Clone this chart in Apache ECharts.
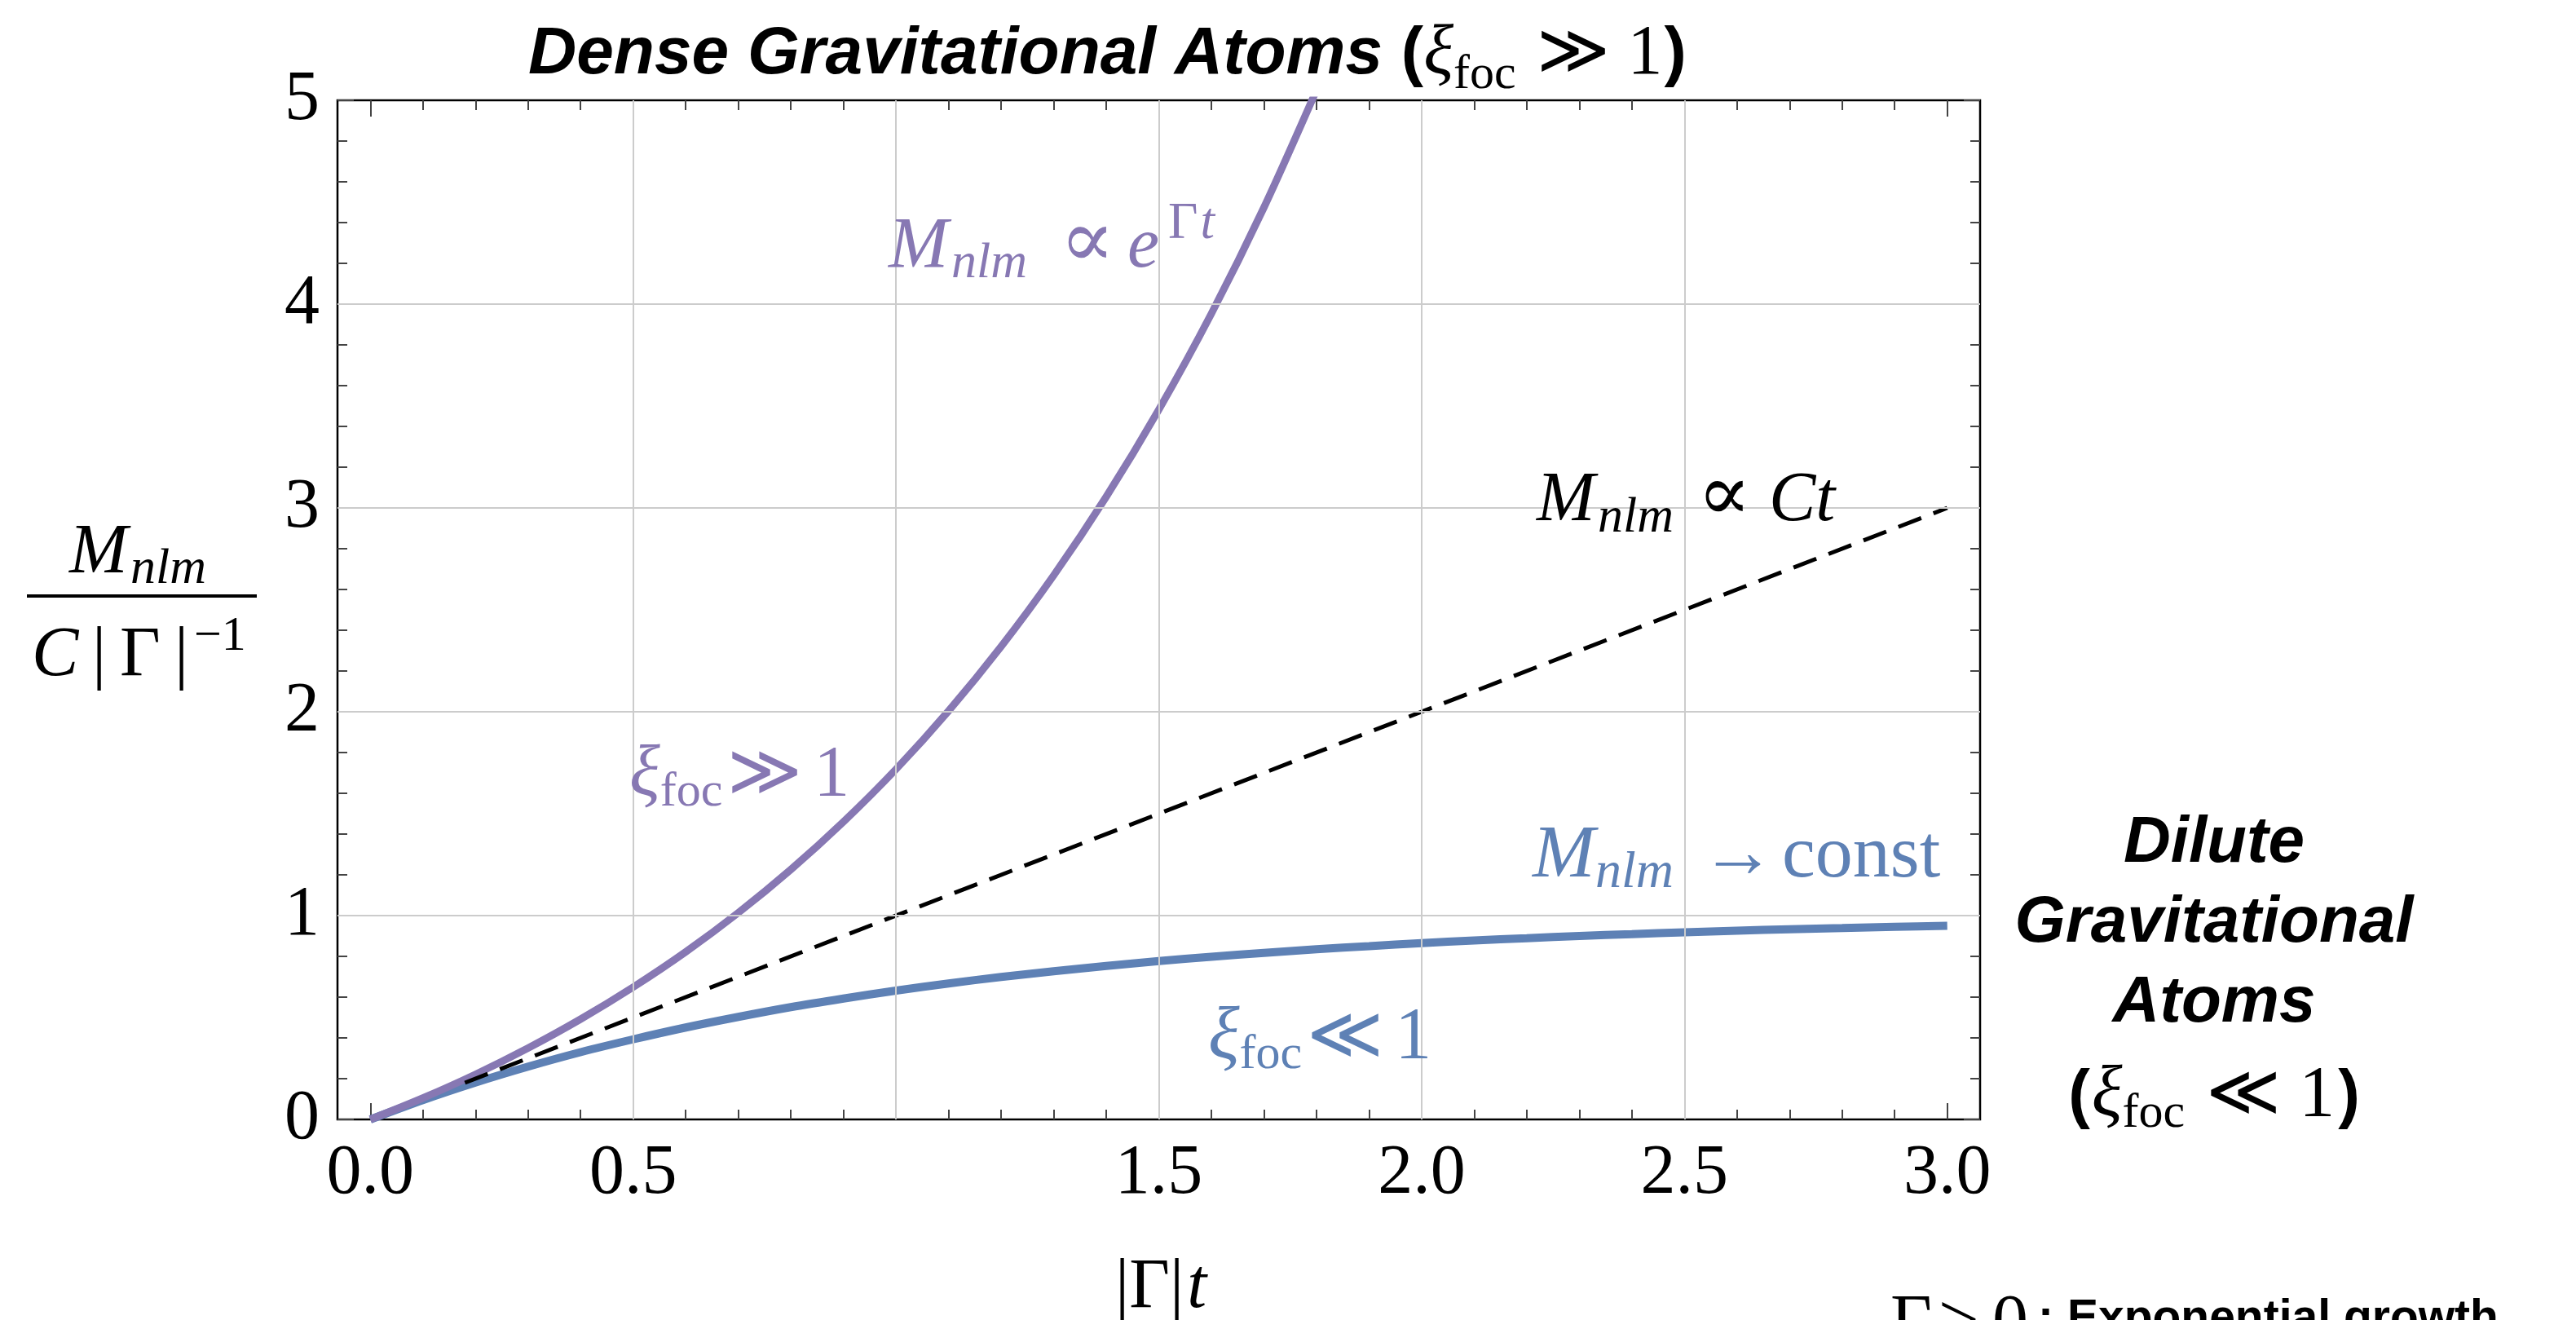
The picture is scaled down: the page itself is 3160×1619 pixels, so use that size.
<!DOCTYPE html>
<html>
<head>
<meta charset="utf-8">
<script src="https://cdn.jsdelivr.net/npm/echarts@6/dist/echarts.min.js"></script>
<style>
  html, body { margin: 0; padding: 0; background: #ffffff; }
  #chart { width: 3160px; height: 1619px; }
</style>
</head>
<body>
<div id="chart"></div>
<script>
// ---- data: mass growth M_nlm / (C|Γ|^-1) against |Γ|t ----
const tDense = [0, 0.1, 0.2, 0.3, 0.4, 0.5, 0.6, 0.7, 0.8, 0.9, 1.0, 1.1, 1.2, 1.3, 1.4, 1.5, 1.6, 1.7, 1.8];
const massDense = [0, 0.105, 0.221, 0.350, 0.492, 0.649, 0.822, 1.014, 1.226, 1.460, 1.718, 2.004, 2.320, 2.669, 3.055, 3.482, 3.953, 4.474, 5.050];

const tDilute = [0, 0.1, 0.2, 0.3, 0.4, 0.5, 0.6, 0.7, 0.8, 0.9, 1.0, 1.1, 1.2, 1.3, 1.4, 1.5, 1.6, 1.7, 1.8, 1.9, 2.0, 2.1, 2.2, 2.3, 2.4, 2.5, 2.6, 2.7, 2.8, 2.9, 3.0];
const massDilute = [0, 0.095, 0.181, 0.259, 0.330, 0.393, 0.451, 0.503, 0.551, 0.593, 0.632, 0.667, 0.699, 0.727, 0.753, 0.777, 0.798, 0.817, 0.835, 0.850, 0.865, 0.878, 0.889, 0.900, 0.909, 0.918, 0.926, 0.933, 0.939, 0.945, 0.950];

const tLinear = [0.18, 3.0];
const massLinear = [0.18, 3.0];

// ---- axes ----
const xTickLabels = [0, 0.5, 1.5, 2, 2.5, 3];
const xMajorTicks = [0, 0.5, 1, 1.5, 2, 2.5, 3];
const xMinorTicks = [0.1, 0.2, 0.3, 0.4, 0.6, 0.7, 0.8, 0.9, 1.1, 1.2, 1.3, 1.4, 1.6, 1.7, 1.8, 1.9, 2.1, 2.2, 2.3, 2.4, 2.6, 2.7, 2.8, 2.9];
const yTickLabels = [0, 1, 2, 3, 4, 5];
const yMajorTicks = [0, 1, 2, 3, 4, 5];
const yMinorTicks = [0.2, 0.4, 0.6, 0.8, 1.2, 1.4, 1.6, 1.8, 2.2, 2.4, 2.6, 2.8, 3.2, 3.4, 3.6, 3.8, 4.2, 4.4, 4.6, 4.8];
const xGridLines = [0.5, 1, 1.5, 2, 2.5];
const yGridLines = [1, 2, 3, 4];

const X_MIN = -0.0625, X_MAX = 3.0625, Y_MIN = 0, Y_MAX = 5;

const PURPLE = '#8778B3';
const BLUE = '#5E81B5';
const SERIF = "'Liberation Serif', 'DejaVu Serif', serif";
const SANS = "'Liberation Sans', 'DejaVu Sans', sans-serif";

// ---- text layout helpers (baseline-aligned runs of mixed fonts) ----
const mctx = document.createElement('canvas').getContext('2d');
function cssFont(p) {
  return (p.italic ? 'italic ' : 'normal ') + (p.bold ? 'bold ' : 'normal ') + p.size + 'px ' + p.family;
}
function middleToBaseline(font) {
  mctx.font = font;
  mctx.textBaseline = 'alphabetic';
  const a = mctx.measureText('H').actualBoundingBoxAscent;
  mctx.textBaseline = 'middle';
  const b = mctx.measureText('H').actualBoundingBoxAscent;
  mctx.textBaseline = 'alphabetic';
  return a - b;
}
function textRun(pieces, opt) {
  let cursor = opt.x || 0;
  const items = [];
  pieces.forEach(p => {
    const font = cssFont(p);
    mctx.font = font;
    const w = mctx.measureText(p.text).width;
    const px = (p.x !== undefined) ? p.x : cursor + (p.dx || 0);
    items.push({ p, font, px });
    cursor = px + w;
  });
  let shift = 0;
  if (opt.center !== undefined) {
    const left = items[0].px;
    shift = opt.center - (cursor - left) / 2 - left;
  }
  return items.map(({ p, font, px }) => ({
    type: 'text',
    x: px + shift,
    y: opt.baseline + (p.dy || 0) - middleToBaseline(font),
    z: 50,
    silent: true,
    style: {
      text: p.text,
      fill: p.color || opt.color || '#000',
      fontSize: p.size,
      fontFamily: p.family,
      fontStyle: p.italic ? 'italic' : 'normal',
      fontWeight: p.bold ? 'bold' : 'normal',
      align: 'left',
      verticalAlign: 'middle'
    }
  }));
}

const S = (text, size, extra) => Object.assign({ text, size, family: SERIF }, extra || {});
const B = (text, size, extra) => Object.assign({ text, size, family: SANS, bold: true }, extra || {});

const texts = [].concat(
  // title
  textRun([
    B('Dense Gravitational Atoms', 82, { italic: true }),
    B(' (', 82),
    S('ξ', 86, { italic: true }),
    S('foc', 60, { dy: 18 }),
    S(' ≫ 1', 86, { dx: 4 }),
    B(')', 82, { dx: 2 })
  ], { x: 648, baseline: 90 }),
  // right-hand block
  textRun([B('Dilute', 80, { italic: true })], { center: 2716, baseline: 1057 }),
  textRun([B('Gravitational', 80, { italic: true })], { center: 2716, baseline: 1155 }),
  textRun([B('Atoms', 80, { italic: true })], { center: 2716, baseline: 1253 }),
  textRun([
    B('(', 80),
    S('ξ', 88, { italic: true, dx: 2 }),
    S('foc', 60, { dy: 14 }),
    S(' ≪ 1', 88, { dx: 4 }),
    B(')', 80, { dx: 4 })
  ], { center: 2716, baseline: 1368 }),
  // y-axis name as a fraction
  textRun([S('M', 86, { italic: true, x: 85 }), S('nlm', 62, { italic: true, x: 160, dy: 13 })], { baseline: 702 }),
  textRun([
    S('C', 86, { italic: true, x: 39 }),
    S('|', 86, { x: 113 }),
    S('Γ', 86, { x: 147 }),
    S('|', 86, { x: 214 }),
    S('−1', 60, { x: 238, dy: -31 })
  ], { baseline: 828 }),
  // x-axis name
  textRun([S('|Γ|', 86), S('t', 86, { italic: true, dx: 4 })], { x: 1368, baseline: 1603 }),
  // curve annotations
  textRun([
    S('M', 88, { italic: true, x: 1090 }),
    S('nlm', 62, { italic: true, x: 1167, dy: 13 }),
    S('∝', 100, { x: 1300 }),
    S('e', 88, { italic: true, x: 1383 }),
    S('Γ', 63, { x: 1433, dy: -35 }),
    S('t', 63, { italic: true, dy: -35, dx: 3 })
  ], { baseline: 327, color: PURPLE }),
  textRun([
    S('ξ', 88, { italic: true, x: 772 }),
    S('foc', 60, { dy: 13 }),
    S('≫', 88, { dx: 6 }),
    S('1', 88, { dx: 14 })
  ], { baseline: 975, color: PURPLE }),
  textRun([
    S('M', 86, { italic: true, x: 1885 }),
    S('nlm', 62, { italic: true, x: 1960, dy: 14 }),
    S('∝', 98, { x: 2082 }),
    S('Ct', 86, { italic: true, x: 2170 })
  ], { baseline: 638, color: '#000' }),
  textRun([
    S('M', 92, { italic: true, x: 1880 }),
    S('nlm', 64, { italic: true, x: 1957, dy: 13 }),
    S('→', 92, { x: 2086 }),
    S('const', 92, { x: 2186 })
  ], { baseline: 1075, color: BLUE }),
  textRun([
    S('ξ', 90, { italic: true, x: 1482 }),
    S('foc', 60, { dy: 12 }),
    S('≪', 90, { dx: 6 }),
    S('1', 90, { dx: 14 })
  ], { baseline: 1298, color: BLUE }),
  // footnote running off the bottom edge
  textRun([
    S('Γ', 88, { x: 2319 }),
    S('>', 88, { x: 2378 }),
    S('0', 88, { x: 2444 })
  ], { baseline: 1648 }),
  textRun([B(':', 57, { x: 2500 }), B('Exponential growth', 57, { x: 2536 })], { baseline: 1634 })
);

const fractionBar = {
  type: 'line', z: 50, silent: true,
  shape: { x1: 33, y1: 731, x2: 315, y2: 731 },
  style: { stroke: '#000', lineWidth: 4 }
};

// ---- axes: major/minor frame ticks on all four sides ----
const TICK_COLOR = '#444';
function xAxisDef(position, ticks, len, labels) {
  return {
    type: 'value', min: X_MIN, max: X_MAX, position,
    axisLine: { show: false, onZero: false },
    splitLine: { show: false },
    axisTick: { show: true, inside: true, length: len, customValues: ticks, lineStyle: { color: TICK_COLOR, width: 2 } },
    axisLabel: labels ? {
      show: true, customValues: labels, margin: 24,
      formatter: v => v.toFixed(1),
      fontFamily: SERIF, fontSize: 86, color: '#000'
    } : { show: false }
  };
}
function yAxisDef(position, ticks, len, labels) {
  return {
    type: 'value', min: Y_MIN, max: Y_MAX, position,
    axisLine: { show: false, onZero: false },
    splitLine: { show: false },
    axisTick: { show: true, inside: true, length: len, customValues: ticks, lineStyle: { color: TICK_COLOR, width: 2 } },
    axisLabel: labels ? {
      show: true, customValues: labels, margin: 22,
      formatter: v => String(v),
      fontFamily: SERIF, fontSize: 86, color: '#000'
    } : { show: false }
  };
}

const option = {
  animation: false,
  backgroundColor: '#ffffff',
  grid: {
    left: 414, top: 123, width: 2015, height: 1250,
    show: true, borderColor: '#000', borderWidth: 2.5, backgroundColor: 'transparent'
  },
  xAxis: [
    xAxisDef('bottom', xMajorTicks, 20, xTickLabels),
    xAxisDef('bottom', xMinorTicks, 12, null),
    xAxisDef('top', xMajorTicks, 20, null),
    xAxisDef('top', xMinorTicks, 12, null)
  ],
  yAxis: [
    yAxisDef('left', yMajorTicks, 20, yTickLabels),
    yAxisDef('left', yMinorTicks, 12, null),
    yAxisDef('right', yMajorTicks, 20, null),
    yAxisDef('right', yMinorTicks, 12, null)
  ],
  series: [
    {
      name: 'grid',
      type: 'line', data: [], silent: true, z: 1,
      markLine: {
        silent: true, symbol: ['none', 'none'], animation: false,
        label: { show: false },
        lineStyle: { color: '#cccccc', width: 2, type: 'solid' },
        emphasis: { disabled: true },
        data: xGridLines.map(v => ({ xAxis: v })).concat(yGridLines.map(v => ({ yAxis: v })))
      }
    },
    {
      name: 'dilute',
      type: 'line', z: 3, silent: true,
      data: tDilute.map((t, i) => [t, massDilute[i]]),
      showSymbol: false, smooth: 0.3,
      lineStyle: { color: BLUE, width: 10, cap: 'butt' }
    },
    {
      name: 'dense',
      type: 'line', z: 3, silent: true, clip: true,
      data: tDense.map((t, i) => [t, massDense[i]]),
      showSymbol: false, smooth: 0.3,
      lineStyle: { color: PURPLE, width: 9, cap: 'butt' }
    },
    {
      name: 'linear',
      type: 'line', z: 4, silent: true,
      data: tLinear.map((t, i) => [t, massLinear[i]]),
      showSymbol: false,
      lineStyle: { color: '#000', width: 5, type: [30, 16] }
    }
  ],
  graphic: { elements: texts.concat([fractionBar]) }
};

const chart = echarts.init(document.getElementById('chart'), null, { renderer: 'canvas' });
chart.setOption(option);
</script>
</body>
</html>
